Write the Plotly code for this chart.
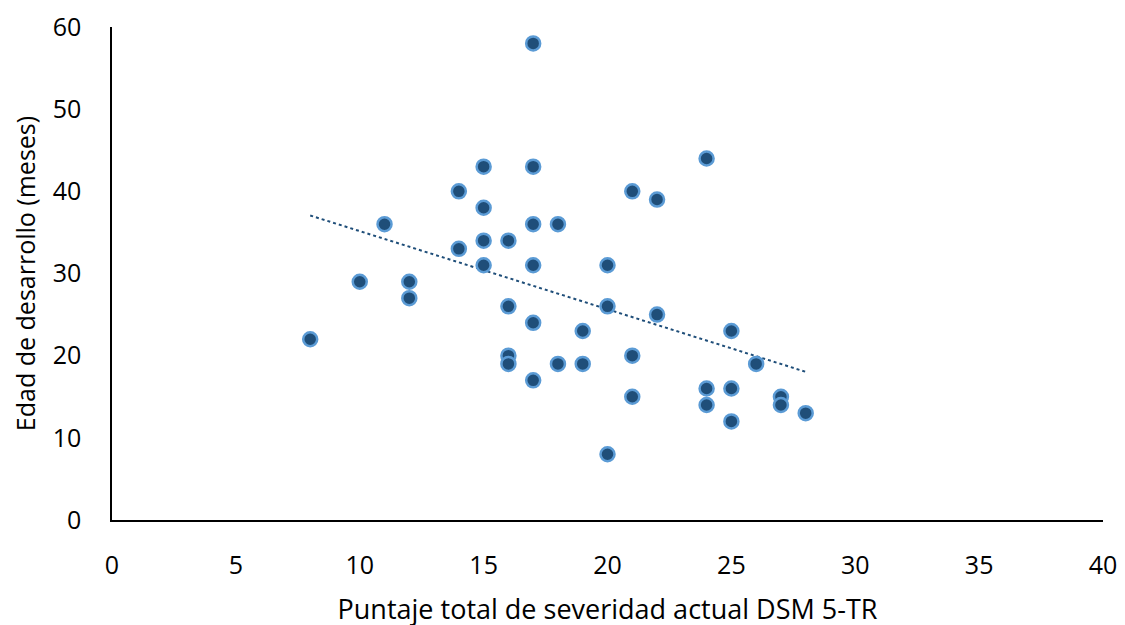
import numpy as np
import plotly.graph_objects as go

severidad = [8, 10, 11, 12, 12, 14, 14, 15, 15, 15, 15, 16, 16, 16, 16,
             17, 17, 17, 17, 17, 17, 18, 18, 19, 19, 20, 20, 20, 21, 21, 21,
             22, 22, 24, 24, 24, 25, 25, 25, 26, 27, 27, 28]
edad = [22, 29, 36, 29, 27, 40, 33, 43, 38, 34, 31, 34, 26, 20, 19,
        58, 43, 36, 31, 24, 17, 36, 19, 23, 19, 31, 26, 8, 40, 20, 15,
        39, 25, 44, 16, 14, 23, 16, 12, 19, 15, 14, 13]

x_ticks = [0, 5, 10, 15, 20, 25, 30, 35, 40]
y_ticks = [0, 10, 20, 30, 40, 50, 60]

xs = np.array(severidad, dtype=float)
ys = np.array(edad, dtype=float)
slope, intercept = np.polyfit(xs, ys, 1)
trend_x = [xs.min(), xs.max()]
trend_y = [slope * v + intercept for v in trend_x]

fig = go.Figure()
fig.add_trace(go.Scatter(
    x=trend_x, y=trend_y, mode="lines",
    line=dict(color="#1F4E79", width=2, dash="dot"),
    showlegend=False, hoverinfo="skip", cliponaxis=False))
fig.add_trace(go.Scatter(
    x=severidad, y=edad, mode="markers",
    marker=dict(size=14, color="#1F4E79", line=dict(color="#5B9BD5", width=2.5)),
    showlegend=False, cliponaxis=False))

font = "Open Sans, sans-serif"
fig.update_layout(
    width=1125, height=625,
    margin=dict(l=104, r=30, t=19, b=113, autoexpand=False),
    paper_bgcolor="white", plot_bgcolor="white",
    font=dict(family=font, size=25, color="#000000"),
    xaxis=dict(range=[0, 40], tickvals=x_ticks, showgrid=False, zeroline=False,
               showline=True, linecolor="#000000", linewidth=1.5, ticks="",
               automargin=False, ticklabelstandoff=22, ticklabeloverflow="allow",
               title=dict(text="Puntaje total de severidad actual DSM 5-TR",
                          font=dict(size=27), standoff=20),
               tickfont=dict(size=25)),
    yaxis=dict(range=[0, 60], tickvals=y_ticks, showgrid=False, zeroline=False,
               showline=True, linecolor="#000000", linewidth=1.5, ticks="",
               automargin=False, ticklabelstandoff=24, ticklabeloverflow="allow",
               title=dict(text="Edad de desarrollo (meses)", font=dict(size=25), standoff=10),
               tickfont=dict(size=25)),
)
fig.write_html("out.html")
